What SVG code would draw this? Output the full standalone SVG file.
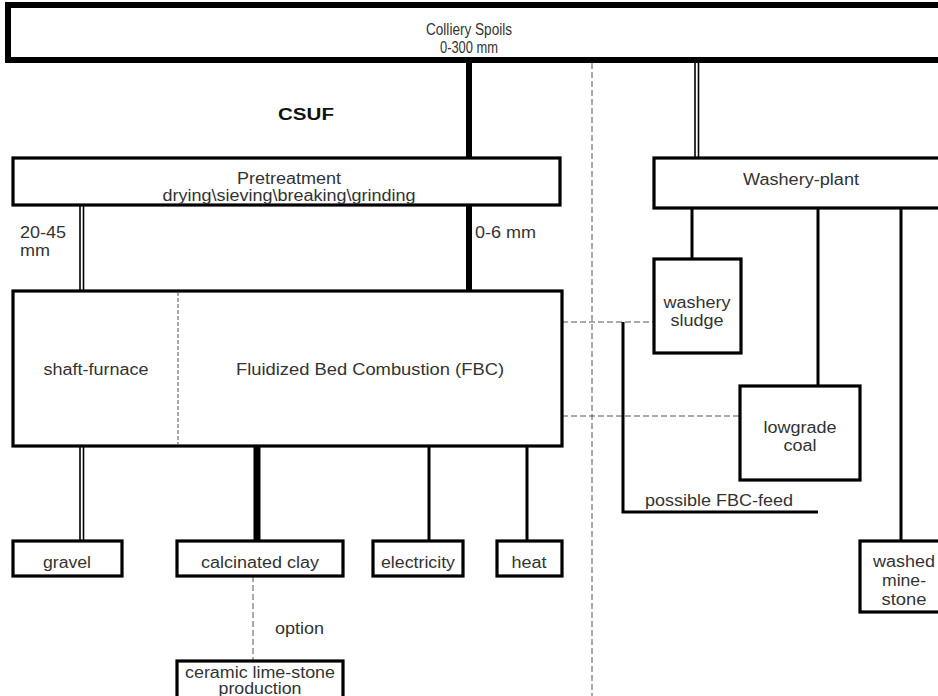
<svg xmlns="http://www.w3.org/2000/svg" width="938" height="696" viewBox="0 0 938 696">
<style>
.box{fill:#fff;stroke:#000;stroke-width:3.2}
.t{font-family:"Liberation Sans",Arial,sans-serif;font-size:16px;fill:#333;text-anchor:middle}
.tl{font-family:"Liberation Sans",Arial,sans-serif;font-size:16px;fill:#333}
.thin{stroke:#000;stroke-width:3;fill:none}
.thick{stroke:#000;stroke-width:6;fill:none}
.dbl{stroke:#000;stroke-width:1.6;fill:none}
.dash{stroke:#555;stroke-width:1;stroke-dasharray:6,3;fill:none}
</style>
<rect width="938" height="696" fill="#fff"/>
<g id="connectors">
<line class="dash" x1="592" y1="63" x2="592" y2="696"/>
<line class="thick" x1="469" y1="60" x2="469" y2="158"/>
<line class="dbl" x1="695" y1="60" x2="695" y2="158"/>
<line class="dbl" x1="698.5" y1="60" x2="698.5" y2="158"/>
<line class="dbl" x1="80" y1="205" x2="80" y2="291"/>
<line class="dbl" x1="83.5" y1="205" x2="83.5" y2="291"/>
<line class="thick" x1="469" y1="205" x2="469" y2="291"/>
<line class="dbl" x1="80" y1="446" x2="80" y2="541"/>
<line class="dbl" x1="83.5" y1="446" x2="83.5" y2="541"/>
<line class="thick" x1="257" y1="446" x2="257" y2="541" style="stroke-width:7"/>
<line class="thin" x1="429" y1="446" x2="429" y2="541"/>
<line class="thin" x1="527" y1="446" x2="527" y2="541"/>
<line class="dash" x1="253" y1="576" x2="253" y2="661"/>
<line class="thin" x1="692" y1="208" x2="692" y2="259"/>
<line class="thin" x1="818" y1="208" x2="818" y2="386"/>
<line class="thin" x1="901" y1="208" x2="901" y2="541"/>
<line class="dash" x1="562" y1="322" x2="653" y2="322"/>
<line class="dash" x1="562" y1="416" x2="739" y2="416"/>
<polyline class="thin" points="623,322 623,512 818,512"/>
<text class="tl" x="645" y="506" textLength="148" lengthAdjust="spacingAndGlyphs">possible FBC-feed</text>
<text class="tl" x="275" y="634" textLength="49" lengthAdjust="spacingAndGlyphs">option</text>
<text class="tl" x="20" y="238" textLength="46" lengthAdjust="spacingAndGlyphs">20-45</text>
<text class="tl" x="20" y="256" textLength="30" lengthAdjust="spacingAndGlyphs">mm</text>
<text class="tl" x="475" y="238" textLength="61" lengthAdjust="spacingAndGlyphs">0-6 mm</text>
</g>
<g id="colliery-spoils">
<rect x="8" y="5" width="940" height="55" fill="#fff" stroke="#000" stroke-width="6"/>
<text class="t" x="469" y="35" textLength="86" lengthAdjust="spacingAndGlyphs">Colliery Spoils</text>
<text class="t" x="469" y="53" textLength="58" lengthAdjust="spacingAndGlyphs">0-300 mm</text>
</g>
<g id="csuf-label">
<text x="278" y="120" font-family="'Liberation Sans',Arial,sans-serif" font-size="16" font-weight="bold" fill="#111" textLength="56" lengthAdjust="spacingAndGlyphs">CSUF</text>
</g>
<g id="pretreatment">
<rect class="box" x="13" y="158" width="547" height="47"/>
<text class="t" x="289" y="184" textLength="104" lengthAdjust="spacingAndGlyphs">Pretreatment</text>
<text class="t" x="289" y="201" textLength="253" lengthAdjust="spacingAndGlyphs">drying\sieving\breaking\grinding</text>
</g>
<g id="washery-plant">
<rect class="box" x="654" y="158" width="300" height="50"/>
<text class="t" x="801" y="185" textLength="116" lengthAdjust="spacingAndGlyphs">Washery-plant</text>
</g>
<g id="fbc">
<rect class="box" x="13" y="291" width="549" height="155"/>
<line class="dash" x1="178" y1="292" x2="178" y2="445" style="stroke-dasharray:4,2"/>
<text class="t" x="96" y="375" textLength="105" lengthAdjust="spacingAndGlyphs">shaft-furnace</text>
<text class="t" x="370" y="375" textLength="268" lengthAdjust="spacingAndGlyphs">Fluidized Bed Combustion (FBC)</text>
</g>
<g id="washery-sludge">
<rect class="box" x="654" y="259" width="87" height="94"/>
<text class="t" x="697" y="308" textLength="67" lengthAdjust="spacingAndGlyphs">washery</text>
<text class="t" x="697" y="326" textLength="53" lengthAdjust="spacingAndGlyphs">sludge</text>
</g>
<g id="lowgrade-coal">
<rect class="box" x="740" y="386" width="120" height="94"/>
<text class="t" x="800" y="433" textLength="73" lengthAdjust="spacingAndGlyphs">lowgrade</text>
<text class="t" x="800" y="451" textLength="33" lengthAdjust="spacingAndGlyphs">coal</text>
</g>
<g id="washed-minestone">
<rect class="box" x="860" y="541" width="100" height="71"/>
<text class="t" x="904" y="567" textLength="62" lengthAdjust="spacingAndGlyphs">washed</text>
<text class="t" x="904" y="586" textLength="44" lengthAdjust="spacingAndGlyphs">mine-</text>
<text class="t" x="904" y="605" textLength="45" lengthAdjust="spacingAndGlyphs">stone</text>
</g>
<g id="gravel">
<rect class="box" x="13" y="541" width="109" height="35"/>
<text class="t" x="67" y="568" textLength="48" lengthAdjust="spacingAndGlyphs">gravel</text>
</g>
<g id="calcinated-clay">
<rect class="box" x="177" y="541" width="166" height="35"/>
<text class="t" x="260" y="568" textLength="118" lengthAdjust="spacingAndGlyphs">calcinated clay</text>
</g>
<g id="electricity">
<rect class="box" x="373" y="541" width="90" height="35"/>
<text class="t" x="418" y="568" textLength="74" lengthAdjust="spacingAndGlyphs">electricity</text>
</g>
<g id="heat">
<rect class="box" x="497" y="541" width="65" height="35"/>
<text class="t" x="529" y="568" textLength="35" lengthAdjust="spacingAndGlyphs">heat</text>
</g>
<g id="ceramic">
<rect class="box" x="177" y="661" width="166" height="50"/>
<text class="t" x="260" y="678" textLength="150" lengthAdjust="spacingAndGlyphs">ceramic lime-stone</text>
<text class="t" x="260" y="694" textLength="83" lengthAdjust="spacingAndGlyphs">production</text>
</g>
</svg>
